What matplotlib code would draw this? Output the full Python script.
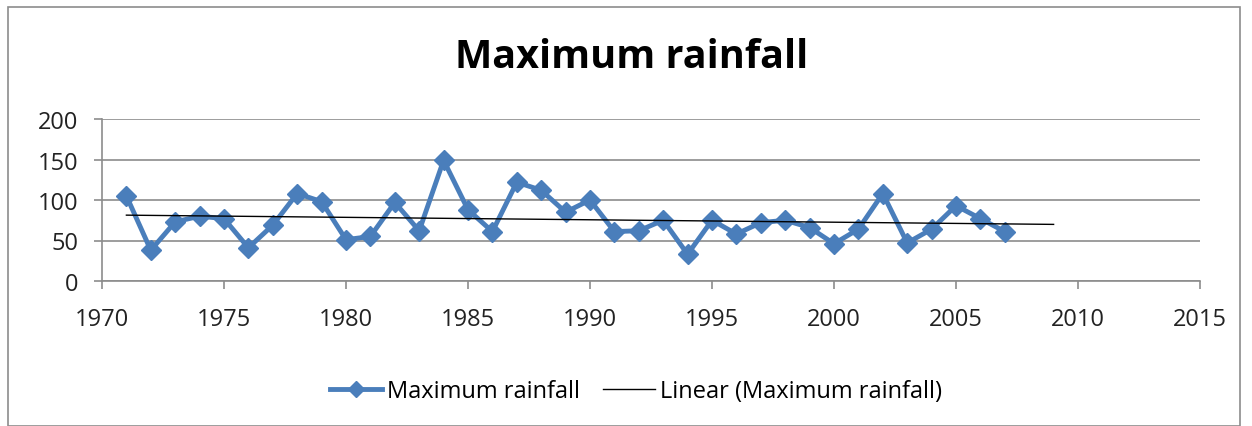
import numpy as np
import matplotlib
matplotlib.use("Agg")
import matplotlib.pyplot as plt
from matplotlib.patches import Rectangle

plt.rcParams['font.family'] = ['Open Sans', 'DejaVu Sans']

# --- data ---
years = list(range(1971, 2008))
max_rain = [105, 38, 73, 80, 77, 41, 69, 108, 98, 51,
            55, 97, 62, 149, 88, 61, 122, 112, 85, 100,
            61, 62, 75, 33, 75, 58, 72, 75, 66, 46,
            64, 108, 47, 64, 93, 77, 61]
trend_end = 2009  # trendline forecast forward
x_ticks = [1970, 1975, 1980, 1985, 1990, 1995, 2000, 2005, 2010, 2015]
y_ticks = [0, 50, 100, 150, 200]

blue = "#4A7EBB"
grid_c = "#8c8c8c"

fig = plt.figure(figsize=(12.52, 4.27), dpi=100)
W, H = 1252, 427

# outer chart border
fig.patches.append(Rectangle((8 / W, 0), (1240 - 8) / W, (H - 8) / H,
                             transform=fig.transFigure, fill=False,
                             edgecolor="#8c8c8c", linewidth=1.2))

ax = fig.add_axes([102 / W, 1 - 282 / H, (1200 - 102) / W, (282 - 120) / H])

# linear trend fitted on the data, extended forward
coef = np.polyfit(years, max_rain, 1)
tx = np.array([years[0], trend_end])

ax.plot(years, max_rain, color=blue, linewidth=3.5, marker="D",
        markersize=10, label="Maximum rainfall", zorder=3)
ax.plot(tx, np.polyval(coef, tx), color="black", linewidth=1,
        label="Linear (Maximum rainfall)", zorder=4)

ax.set_xlim(1970, 2015)
ax.set_ylim(0, 200)
ax.set_xticks(x_ticks)
ax.set_yticks(y_ticks)
ax.tick_params(axis="both", labelsize=17, color=grid_c, length=6, width=1.2,
               labelcolor="#222222")
ax.tick_params(axis="x", pad=13)
ax.tick_params(axis="y", pad=11)
ax.grid(True, axis="y", color=grid_c, linewidth=1.2)
ax.set_axisbelow(True)
for s in ["top", "right"]:
    ax.spines[s].set_visible(False)
for s in ["left", "bottom"]:
    ax.spines[s].set_color(grid_c)
    ax.spines[s].set_linewidth(1.2)

fig.text(632 / W, 1 - 58 / H, "Maximum rainfall", ha="center", va="center",
         fontsize=28.5, fontweight="bold")

leg = fig.legend(loc="center", bbox_to_anchor=(636 / W, 1 - 392 / H), ncol=2,
                 frameon=False, fontsize=17, handlelength=2.2,
                 columnspacing=1.0, handletextpad=0.2, markerscale=0.8)

fig.savefig("out.png", dpi=100)
